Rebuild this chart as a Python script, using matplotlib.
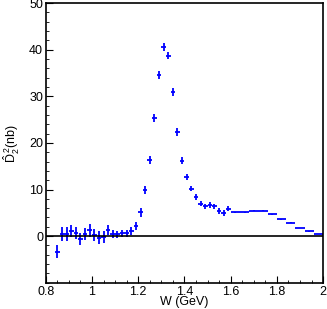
import matplotlib
matplotlib.use('Agg')
import matplotlib.pyplot as plt
import numpy as np
from matplotlib.ticker import MultipleLocator

plt.rcParams['font.family'] = ['Liberation Sans', 'DejaVu Sans']
plt.rcParams['mathtext.fontset'] = 'custom'
plt.rcParams['mathtext.rm'] = 'Liberation Sans'

# measured points (W in GeV, D2^2 in nb)
w_pts = [0.85, 0.87, 0.89, 0.91, 0.93, 0.95, 0.97, 0.99, 1.01, 1.03,
         1.05, 1.07, 1.09, 1.11, 1.13, 1.15, 1.17, 1.19, 1.21, 1.23,
         1.25, 1.27, 1.29, 1.31, 1.33, 1.35, 1.37, 1.39, 1.41, 1.43,
         1.45, 1.47, 1.49, 1.51, 1.53, 1.55, 1.57, 1.59]
d_pts = [-3.4, 0.4, 0.4, 1.1, 0.6, -0.6, 0.4, 1.3, 0.2, -0.3,
         -0.1, 1.3, 0.4, 0.4, 0.6, 0.6, 1.1, 2.2, 5.1, 9.9,
         16.3, 25.3, 34.6, 40.6, 38.7, 30.9, 22.3, 16.2, 12.7, 10.2,
         8.4, 7.0, 6.4, 6.7, 6.4, 5.4, 4.9, 5.9]
d_err = [1.4, 1.5, 1.5, 1.3, 1.3, 1.3, 1.3, 1.4, 1.3, 1.3,
         1.3, 1.0, 0.9, 0.8, 0.8, 0.8, 0.9, 0.9, 0.9, 0.9,
         0.9, 0.9, 0.9, 0.8, 0.8, 0.8, 0.8, 0.7, 0.7, 0.6,
         0.6, 0.6, 0.6, 0.6, 0.6, 0.6, 0.6, 0.6]

# wide bins above 1.6 GeV
w_bins = [1.62, 1.66, 1.70, 1.74, 1.78, 1.82, 1.86, 1.90, 1.94, 1.98]
d_bins = [5.15, 5.15, 5.45, 5.4, 4.65, 3.65, 2.85, 1.75, 1.05, 0.45]

fig = plt.figure(figsize=(3.27, 3.09), dpi=100)
ax = fig.add_axes([0.14, 0.085, 0.848, 0.905])

ax.errorbar(w_pts, d_pts, yerr=d_err, xerr=0.01, fmt='none',
            ecolor='#0000ff', elinewidth=1.3, capsize=0)
ax.errorbar(w_bins, d_bins, xerr=0.02, yerr=0.1, fmt='none',
            ecolor='#0000ff', elinewidth=1.3, capsize=0)
ax.axhline(0, color='black', lw=1.2)

ax.set_xlim(0.8, 2.0)
ax.set_ylim(-10, 50)
ax.xaxis.set_minor_locator(MultipleLocator(0.05))
ax.yaxis.set_minor_locator(MultipleLocator(2))
ax.set_xticks([0.8, 1.0, 1.2, 1.4, 1.6, 1.8, 2.0])
ax.set_xticklabels(['0.8', '1', '1.2', '1.4', '1.6', '1.8', '2'])
ax.set_yticks([0, 10, 20, 30, 40, 50])
ax.tick_params(which='both', direction='in', top=False, right=False,
               labelsize=9, pad=2)
ax.tick_params(which='major', length=5)
ax.tick_params(which='minor', length=2.5)
for s in ax.spines.values():
    s.set_linewidth(1.2)

ax.set_xlabel('W (GeV)', fontsize=9, labelpad=-1)
ax.set_ylabel(r'$\hat{\mathrm{D}}_2^{\,2}$(nb)', fontsize=9, labelpad=5)

fig.savefig('out.png', dpi=100)
